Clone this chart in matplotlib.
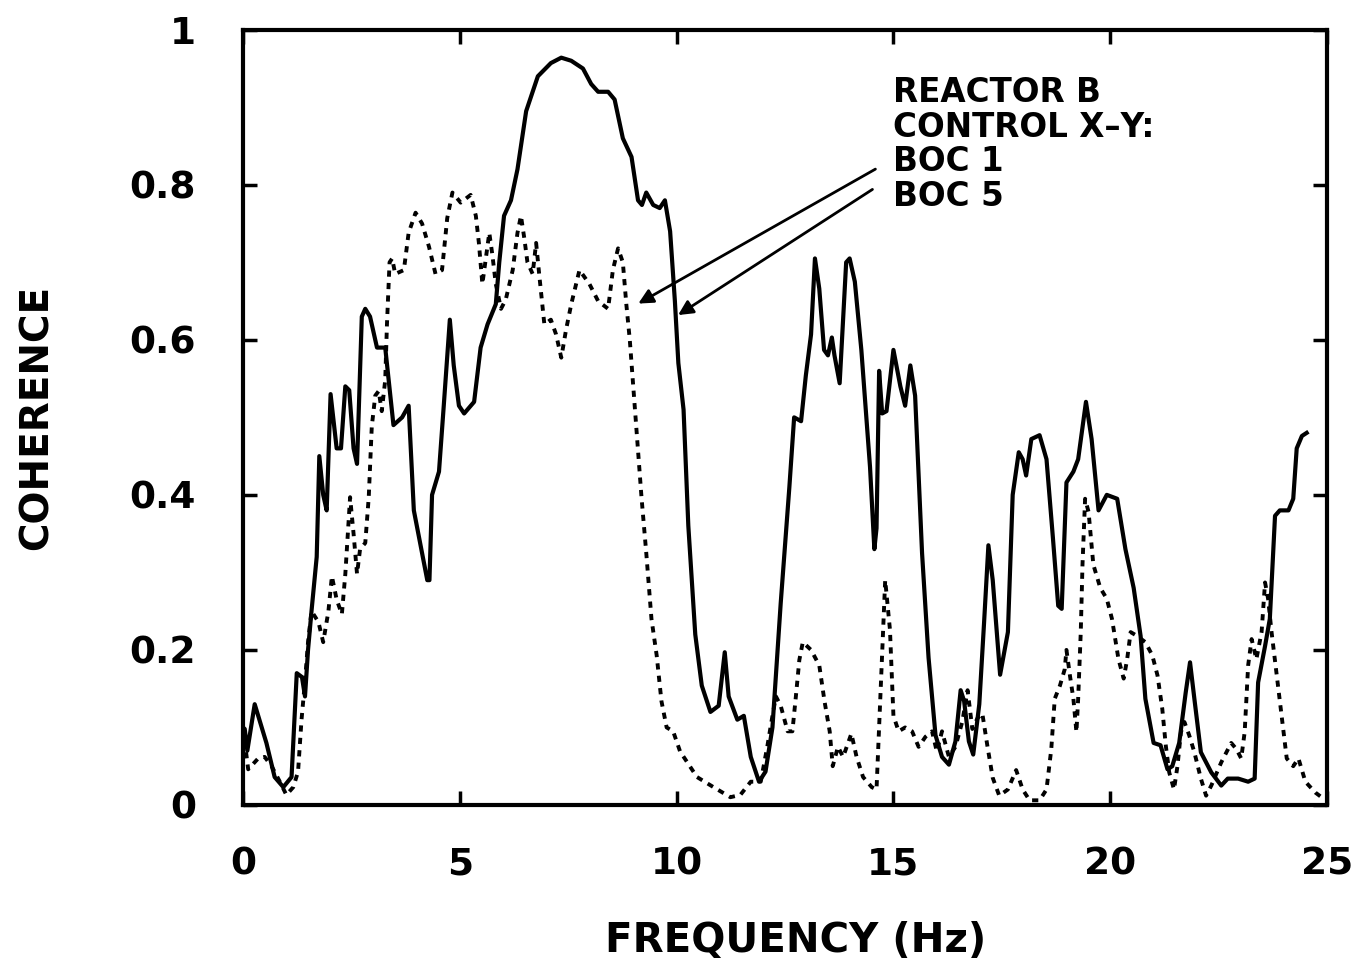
import matplotlib
matplotlib.use("Agg")
import matplotlib.pyplot as plt

# BOC 5 (solid) coherence
f_solid = [0.0, 0.04, 0.10, 0.27, 0.54, 0.73, 0.93, 1.12, 1.24, 1.36, 1.43, 1.50, 1.58, 1.70, 1.76,
           1.85, 1.93, 2.02, 2.16, 2.26, 2.36, 2.45, 2.55, 2.63, 2.74, 2.82, 2.93, 3.09, 3.28,
           3.47, 3.67, 3.82, 3.94, 4.13, 4.25, 4.30, 4.36, 4.52, 4.63, 4.77, 4.86, 4.98, 5.10,
           5.33, 5.48, 5.64, 5.83, 5.91, 6.02, 6.18, 6.33, 6.53, 6.80, 7.10, 7.34, 7.57, 7.84,
           8.03, 8.19, 8.42, 8.57, 8.76, 8.96, 9.11, 9.20, 9.30, 9.46, 9.61, 9.73, 9.85, 9.96,
           10.04, 10.16, 10.27, 10.43, 10.58, 10.78, 10.97, 11.11, 11.20, 11.40, 11.55, 11.71,
           11.90, 12.05, 12.21, 12.40, 12.60, 12.71, 12.87, 12.98, 13.10, 13.19, 13.29, 13.40,
           13.49, 13.58, 13.64, 13.76, 13.91, 13.99, 14.11, 14.26, 14.46, 14.56, 14.61, 14.67,
           14.74, 14.84, 15.00, 15.16, 15.27, 15.39, 15.50, 15.66, 15.81, 15.97, 16.12, 16.28,
           16.43, 16.55, 16.63, 16.74, 16.84, 16.98, 17.09, 17.19, 17.29, 17.46, 17.64, 17.75,
           17.89, 17.98, 18.06, 18.18, 18.37, 18.53, 18.68, 18.80, 18.88, 18.99, 19.15, 19.26,
           19.44, 19.57, 19.73, 19.92, 20.16, 20.35, 20.54, 20.70, 20.81, 21.00, 21.16, 21.32,
           21.43, 21.59, 21.74, 21.84, 21.94, 22.09, 22.33, 22.56, 22.71, 22.95, 23.18, 23.33,
           23.41, 23.57, 23.68, 23.80, 23.91, 24.11, 24.22, 24.30, 24.42, 24.53]
c_solid = [0.10, 0.098, 0.07, 0.13, 0.08, 0.036, 0.023, 0.036, 0.17, 0.165, 0.14, 0.20, 0.25, 0.32, 0.45,
           0.40, 0.38, 0.53, 0.46, 0.46, 0.54, 0.535, 0.46, 0.44, 0.63, 0.64, 0.63, 0.59, 0.59,
           0.49, 0.50, 0.515, 0.38, 0.325, 0.29, 0.29, 0.40, 0.43, 0.515, 0.626, 0.567, 0.515, 0.505,
           0.52, 0.59, 0.62, 0.646, 0.70, 0.76, 0.78, 0.82, 0.895, 0.94, 0.957, 0.964, 0.96, 0.95,
           0.93, 0.92, 0.92, 0.91, 0.86, 0.836, 0.78, 0.774, 0.79, 0.774, 0.77, 0.78, 0.74, 0.65,
           0.57, 0.51, 0.36, 0.22, 0.154, 0.12, 0.128, 0.197, 0.14, 0.11, 0.115, 0.062,
           0.03, 0.043, 0.10, 0.26, 0.41, 0.50, 0.495, 0.554, 0.607, 0.705, 0.666, 0.587,
           0.58, 0.603, 0.58, 0.544, 0.70, 0.705, 0.675, 0.587, 0.436, 0.33, 0.357, 0.56,
           0.505, 0.508, 0.587, 0.54, 0.515, 0.567, 0.528, 0.325, 0.19, 0.09, 0.062, 0.052,
           0.082, 0.148, 0.134, 0.082, 0.065, 0.13, 0.235, 0.335, 0.29, 0.168, 0.223, 0.40,
           0.455, 0.446, 0.425, 0.472, 0.477, 0.446, 0.343, 0.257, 0.253, 0.416, 0.43, 0.446,
           0.52, 0.472, 0.38, 0.40, 0.395, 0.33, 0.28, 0.218, 0.137, 0.08, 0.077, 0.046,
           0.05, 0.08, 0.145, 0.184, 0.137, 0.068, 0.042, 0.025, 0.034, 0.034, 0.03, 0.034,
           0.158, 0.205, 0.24, 0.373, 0.38, 0.38, 0.395, 0.46, 0.476, 0.48]

# BOC 1 (dotted) coherence
f_dot = [0.0, 0.12, 0.35, 0.50, 0.66, 0.85, 1.00, 1.16, 1.27, 1.35, 1.43, 1.50, 1.58, 1.74, 1.85,
         1.97, 2.05, 2.16, 2.28, 2.36, 2.47, 2.55, 2.63, 2.70, 2.82, 2.90, 2.97, 3.05, 3.13,
         3.20, 3.28, 3.32, 3.38, 3.44, 3.51, 3.71, 3.82, 3.98, 4.13, 4.29, 4.44, 4.59, 4.71,
         4.83, 5.02, 5.25, 5.37, 5.44, 5.52, 5.60, 5.68, 5.75, 5.83, 5.95, 6.06, 6.22, 6.33,
         6.41, 6.49, 6.56, 6.68, 6.76, 6.83, 6.95, 7.10, 7.22, 7.34, 7.45, 7.57, 7.76, 7.99,
         8.19, 8.42, 8.53, 8.65, 8.76, 8.84, 8.92, 9.00, 9.07, 9.19, 9.30, 9.42, 9.54, 9.65,
         9.77, 9.92, 10.08, 10.47, 10.85, 11.24, 11.47, 11.71, 11.94, 12.09, 12.21, 12.29,
         12.40, 12.56, 12.67, 12.75, 12.83, 12.91, 13.10, 13.29, 13.41, 13.53, 13.60, 13.72,
         13.84, 14.03, 14.15, 14.30, 14.50, 14.61, 14.69, 14.81, 14.92, 15.00, 15.12, 15.27,
         15.43, 15.58, 15.74, 15.89, 16.00, 16.12, 16.28, 16.43, 16.59, 16.71, 16.82, 16.94,
         17.05, 17.17, 17.29, 17.44, 17.64, 17.83, 17.98, 18.14, 18.37, 18.53, 18.64, 18.72,
         18.84, 18.95, 18.99, 19.07, 19.15, 19.22, 19.26, 19.32, 19.36, 19.42, 19.50, 19.61,
         19.77, 19.92, 20.04, 20.19, 20.31, 20.39, 20.47, 20.62, 20.81, 20.97, 21.09, 21.20,
         21.28, 21.36, 21.47, 21.55, 21.63, 21.71, 21.82, 21.94, 22.09, 22.21, 22.33, 22.56,
         22.79, 22.91, 23.02, 23.10, 23.18, 23.26, 23.37, 23.49, 23.57, 23.64, 23.72, 23.84,
         23.95, 24.07, 24.22, 24.34, 24.50, 24.73, 24.92]
c_dot = [0.10, 0.046, 0.06, 0.062, 0.05, 0.03, 0.013, 0.023, 0.043, 0.11, 0.16, 0.21, 0.25, 0.236, 0.21,
         0.25, 0.295, 0.265, 0.246, 0.298, 0.397, 0.35, 0.298, 0.33, 0.338, 0.397, 0.488, 0.528, 0.534,
         0.508, 0.548, 0.62, 0.70, 0.705, 0.685, 0.69, 0.738, 0.764, 0.75, 0.72, 0.685, 0.69, 0.757,
         0.79, 0.777, 0.787, 0.76, 0.725, 0.672, 0.705, 0.738, 0.71, 0.672, 0.64, 0.652, 0.69, 0.738,
         0.76, 0.73, 0.70, 0.685, 0.725, 0.685, 0.62, 0.626, 0.607, 0.577, 0.613, 0.646, 0.69, 0.672,
         0.65, 0.64, 0.69, 0.718, 0.70, 0.646, 0.60, 0.54, 0.488, 0.397, 0.325, 0.24, 0.193, 0.134,
         0.10, 0.095, 0.069, 0.036, 0.023, 0.01, 0.013, 0.03, 0.03, 0.075, 0.115, 0.14,
         0.128, 0.095, 0.095, 0.14, 0.187, 0.21, 0.20, 0.18, 0.134, 0.095, 0.05, 0.075,
         0.062, 0.092, 0.062, 0.036, 0.023, 0.02, 0.128, 0.29, 0.226, 0.115, 0.095, 0.10,
         0.095, 0.075, 0.088, 0.095, 0.069, 0.095, 0.062, 0.075, 0.108, 0.148, 0.098, 0.112,
         0.118, 0.075, 0.035, 0.012, 0.02, 0.045, 0.02, 0.006, 0.006, 0.02, 0.072, 0.137,
         0.154, 0.175, 0.20, 0.167, 0.137, 0.094, 0.137, 0.223, 0.31, 0.395, 0.378, 0.31,
         0.28, 0.266, 0.24, 0.188, 0.163, 0.188, 0.223, 0.218, 0.21, 0.193, 0.167, 0.124,
         0.077, 0.042, 0.02, 0.05, 0.094, 0.107, 0.09, 0.068, 0.034, 0.012, 0.025, 0.055,
         0.08, 0.072, 0.06, 0.094, 0.18, 0.214, 0.188, 0.223, 0.287, 0.266, 0.223, 0.167,
         0.115, 0.06, 0.05, 0.06, 0.03, 0.016, 0.008]

x_ticks = [0, 5, 10, 15, 20, 25]
x_tick_labels = ["0", "5", "10", "15", "20", "25"]
y_ticks = [0, 0.2, 0.4, 0.6, 0.8, 1.0]
y_tick_labels = ["0", "0.2", "0.4", "0.6", "0.8", "1"]

plt.rcParams['font.family'] = ['DejaVu Sans']
plt.rcParams['font.weight'] = 'bold'

fig = plt.figure(figsize=(13.59, 9.6), dpi=100)
ax = fig.add_axes([0.1788, 0.1615, 0.7977, 0.8075])

ax.plot(f_solid, c_solid, color='black', lw=3.0, solid_joinstyle='round')
ax.plot(f_dot, c_dot, color='black', lw=2.8, linestyle=(0, (1.6, 1.6)))

ax.set_xlim(0, 25)
ax.set_ylim(0, 1.0)
ax.set_xticks(x_ticks)
ax.set_xticklabels(x_tick_labels)
ax.set_yticks(y_ticks)
ax.set_yticklabels(y_tick_labels)
ax.tick_params(direction='in', length=10, width=2.5, top=True, right=True,
               labelsize=27)
ax.tick_params(axis='x', pad=30)
ax.tick_params(axis='y', pad=34)
for lab in ax.get_xticklabels() + ax.get_yticklabels():
    lab.set_fontweight('bold')
for s in ax.spines.values():
    s.set_linewidth(3)

ax.set_xlabel("FREQUENCY (Hz)", fontsize=29, fontweight='bold')
ax.xaxis.label.set_va('center')
ax.xaxis.set_label_coords(0.51, -0.175)
ax.set_ylabel("COHERENCE", fontsize=28, fontweight='bold')
ax.yaxis.label.set_va('center')
ax.yaxis.set_label_coords(-0.19, 0.50)

ax.text(14.98, 0.94, "REACTOR B\nCONTROL X–Y:\nBOC 1\nBOC 5", fontsize=23.5,
        fontweight='bold', va='top', ha='left', linespacing=1.06)

ax.annotate("", xy=(9.06, 0.645), xytext=(14.64, 0.822),
            arrowprops=dict(arrowstyle='-|>', color='black', lw=2, mutation_scale=22))
ax.annotate("", xy=(9.98, 0.63), xytext=(14.57, 0.796),
            arrowprops=dict(arrowstyle='-|>', color='black', lw=2, mutation_scale=22))

fig.savefig("out.png", dpi=100)
